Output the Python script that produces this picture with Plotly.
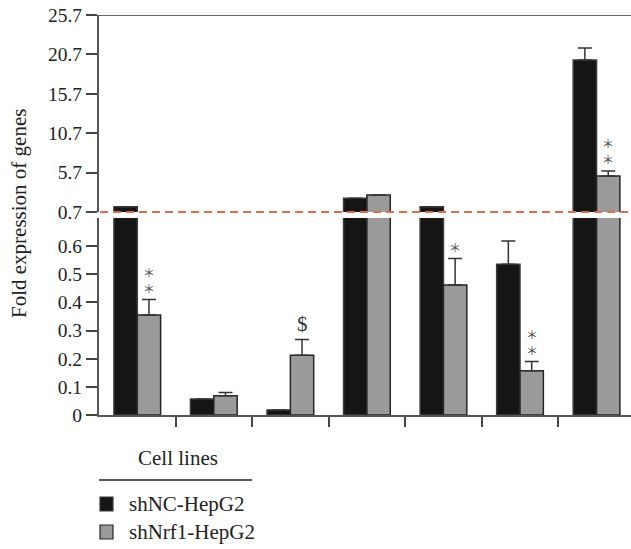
import plotly.graph_objects as go

# ---- data ----
group_ids = [0, 1, 2, 3, 4, 5, 6]
series_names = ["shNC-HepG2", "shNrf1-HepG2"]
shNC = [1.37, 0.057, 0.018, 2.44, 1.37, 0.536, 20.0]
shNC_err = [None, None, None, None, None, 0.082, 1.5]
shNrf1 = [0.355, 0.068, 0.212, 2.86, 0.462, 0.157, 5.28]
shNrf1_err = [0.055, 0.012, 0.056, None, 0.094, 0.033, 0.62]
signif = ["**", "", "$", "", "*", "**", "**"]
lower_ticks = [0, 0.1, 0.2, 0.3, 0.4, 0.5, 0.6]
lower_ticktext = ["0", "0.1", "0.2", "0.3", "0.4", "0.5", "0.6"]
upper_ticks = [0.7, 5.7, 10.7, 15.7, 20.7, 25.7]
upper_ticktext = ["0.7", "5.7", "10.7", "15.7", "20.7", "25.7"]
break_value = 0.7
upper_max = 25.7
y_title = "Fold expression of genes"
legend_title = "Cell lines"

# ---- style ----
FONT = "Liberation Serif"
BLACK = "#151515"
GRAY = "#9a9a9a"
AX = "#555555"
colors = [BLACK, GRAY]
outlines = ["#3a3a3a", "#262626"]
W, H = 631, 549
ML, MR, MT, MB = 99, 0, 15, 134
plot_h = H - MT - MB
plot_w = W - ML - MR
BARGAP = 0.39

def px_x(px):
    return (px - ML) / plot_w
def px_y(py):
    return (H - MB - py) / plot_h

fig = go.Figure()
vals = [shNC, shNrf1]
errs = [shNC_err, shNrf1_err]
for yax in ["y", "y2"]:
    for k in range(2):
        fig.add_trace(go.Bar(
            x=group_ids, y=vals[k], name=series_names[k], yaxis=yax, xaxis="x",
            marker=dict(color=colors[k], line=dict(color=outlines[k], width=1.5)),
            error_y=dict(type="data", array=errs[k], arrayminus=[0]*len(group_ids),
                         symmetric=False, color="#333333", thickness=1.5, width=7),
            showlegend=False, offsetgroup=str(k),
        ))

# significance labels above shNrf1 bars
half_w = (1 - BARGAP) / 4
for i, s in enumerate(signif):
    if not s:
        continue
    top = shNrf1[i] + (shNrf1_err[i] or 0)
    yref = "y2" if top > break_value else "y"
    xi = group_ids[i] + half_w
    if s == "$":
        fig.add_annotation(x=xi, y=top, xref="x", yref=yref, text="$", showarrow=False,
                           xanchor="center", yanchor="bottom", yshift=2,
                           font=dict(family=FONT, size=21, color="#333"))
    else:
        txt = "<br>".join(["\uff0a"] * len(s))
        fig.add_annotation(x=xi, y=top, xref="x", yref=yref, text=txt, showarrow=False,
                           xanchor="center", yanchor="bottom", yshift=1,
                           font=dict(family="Noto Sans CJK SC", size=12, color="#444"))

# break line (paper-referenced so it is not clipped)
upper_dom_bot = px_y(212)
lower_dom_top = px_y(218)
fig.add_shape(type="line", xref="paper", yref="paper", x0=0.002, x1=1, y0=upper_dom_bot, y1=upper_dom_bot,
              line=dict(color="#e36c4c", width=2, dash="8px,5px"), layer="above")
# top border
fig.add_shape(type="line", xref="paper", yref="y2", x0=0, x1=1, y0=upper_max, y1=upper_max,
              line=dict(color="#333333", width=1.5), layer="above")

# y title
fig.add_annotation(xref="paper", yref="paper", x=px_x(19), y=px_y(214),
                   xanchor="center", yanchor="middle",
                   text=y_title, textangle=-90, showarrow=False,
                   font=dict(family=FONT, size=21, color="#222"))

# legend (manual)
fig.add_annotation(xref="paper", yref="paper", x=px_x(178), y=px_y(458), text=legend_title,
                   xanchor="center", yanchor="middle",
                   showarrow=False, font=dict(family=FONT, size=21, color="#222"))
fig.add_shape(type="line", xref="paper", yref="paper", x0=px_x(99), x1=px_x(252),
              y0=px_y(480), y1=px_y(480), line=dict(color="#222", width=1.5))
for k, yc in enumerate([504, 532]):
    fig.add_shape(type="rect", xref="paper", yref="paper", x0=px_x(100), x1=px_x(113),
                  y0=px_y(yc - 7), y1=px_y(yc + 7), fillcolor=colors[k],
                  line=dict(color=outlines[k], width=1.2))
    fig.add_annotation(xref="paper", yref="paper", x=px_x(127), y=px_y(yc), xanchor="left",
                       yanchor="middle", text=series_names[k], showarrow=False,
                       font=dict(family=FONT, size=21, color="#222"))

axis_common = dict(showline=True, linecolor=AX, linewidth=2, ticks="outside", ticklen=11,
                   tickwidth=1.5, tickcolor="#444", showgrid=False, zeroline=False,
                   tickfont=dict(family=FONT, size=19.5, color="#222"), anchor="x")
fig.update_layout(
    width=W, height=H, margin=dict(l=ML, r=MR, t=MT, b=MB, pad=0),
    paper_bgcolor="white", plot_bgcolor="white",
    barmode="group", bargap=BARGAP, bargroupgap=0,
    xaxis=dict(range=[-0.5, 6.45], showline=True, linecolor=AX, linewidth=2,
               tickvals=[g + 0.5 for g in group_ids[:-1]], ticks="outside", ticklen=10,
               tickwidth=1.5, tickcolor="#444", showticklabels=False, showgrid=False,
               zeroline=False, anchor="y"),
    yaxis=dict(domain=[0, lower_dom_top], range=[0, break_value], tickvals=lower_ticks,
               ticktext=lower_ticktext, **axis_common),
    yaxis2=dict(domain=[upper_dom_bot, 1], range=[break_value, upper_max], tickvals=upper_ticks,
                ticktext=upper_ticktext, **axis_common),
    showlegend=False,
)
fig.write_html("out.html")
